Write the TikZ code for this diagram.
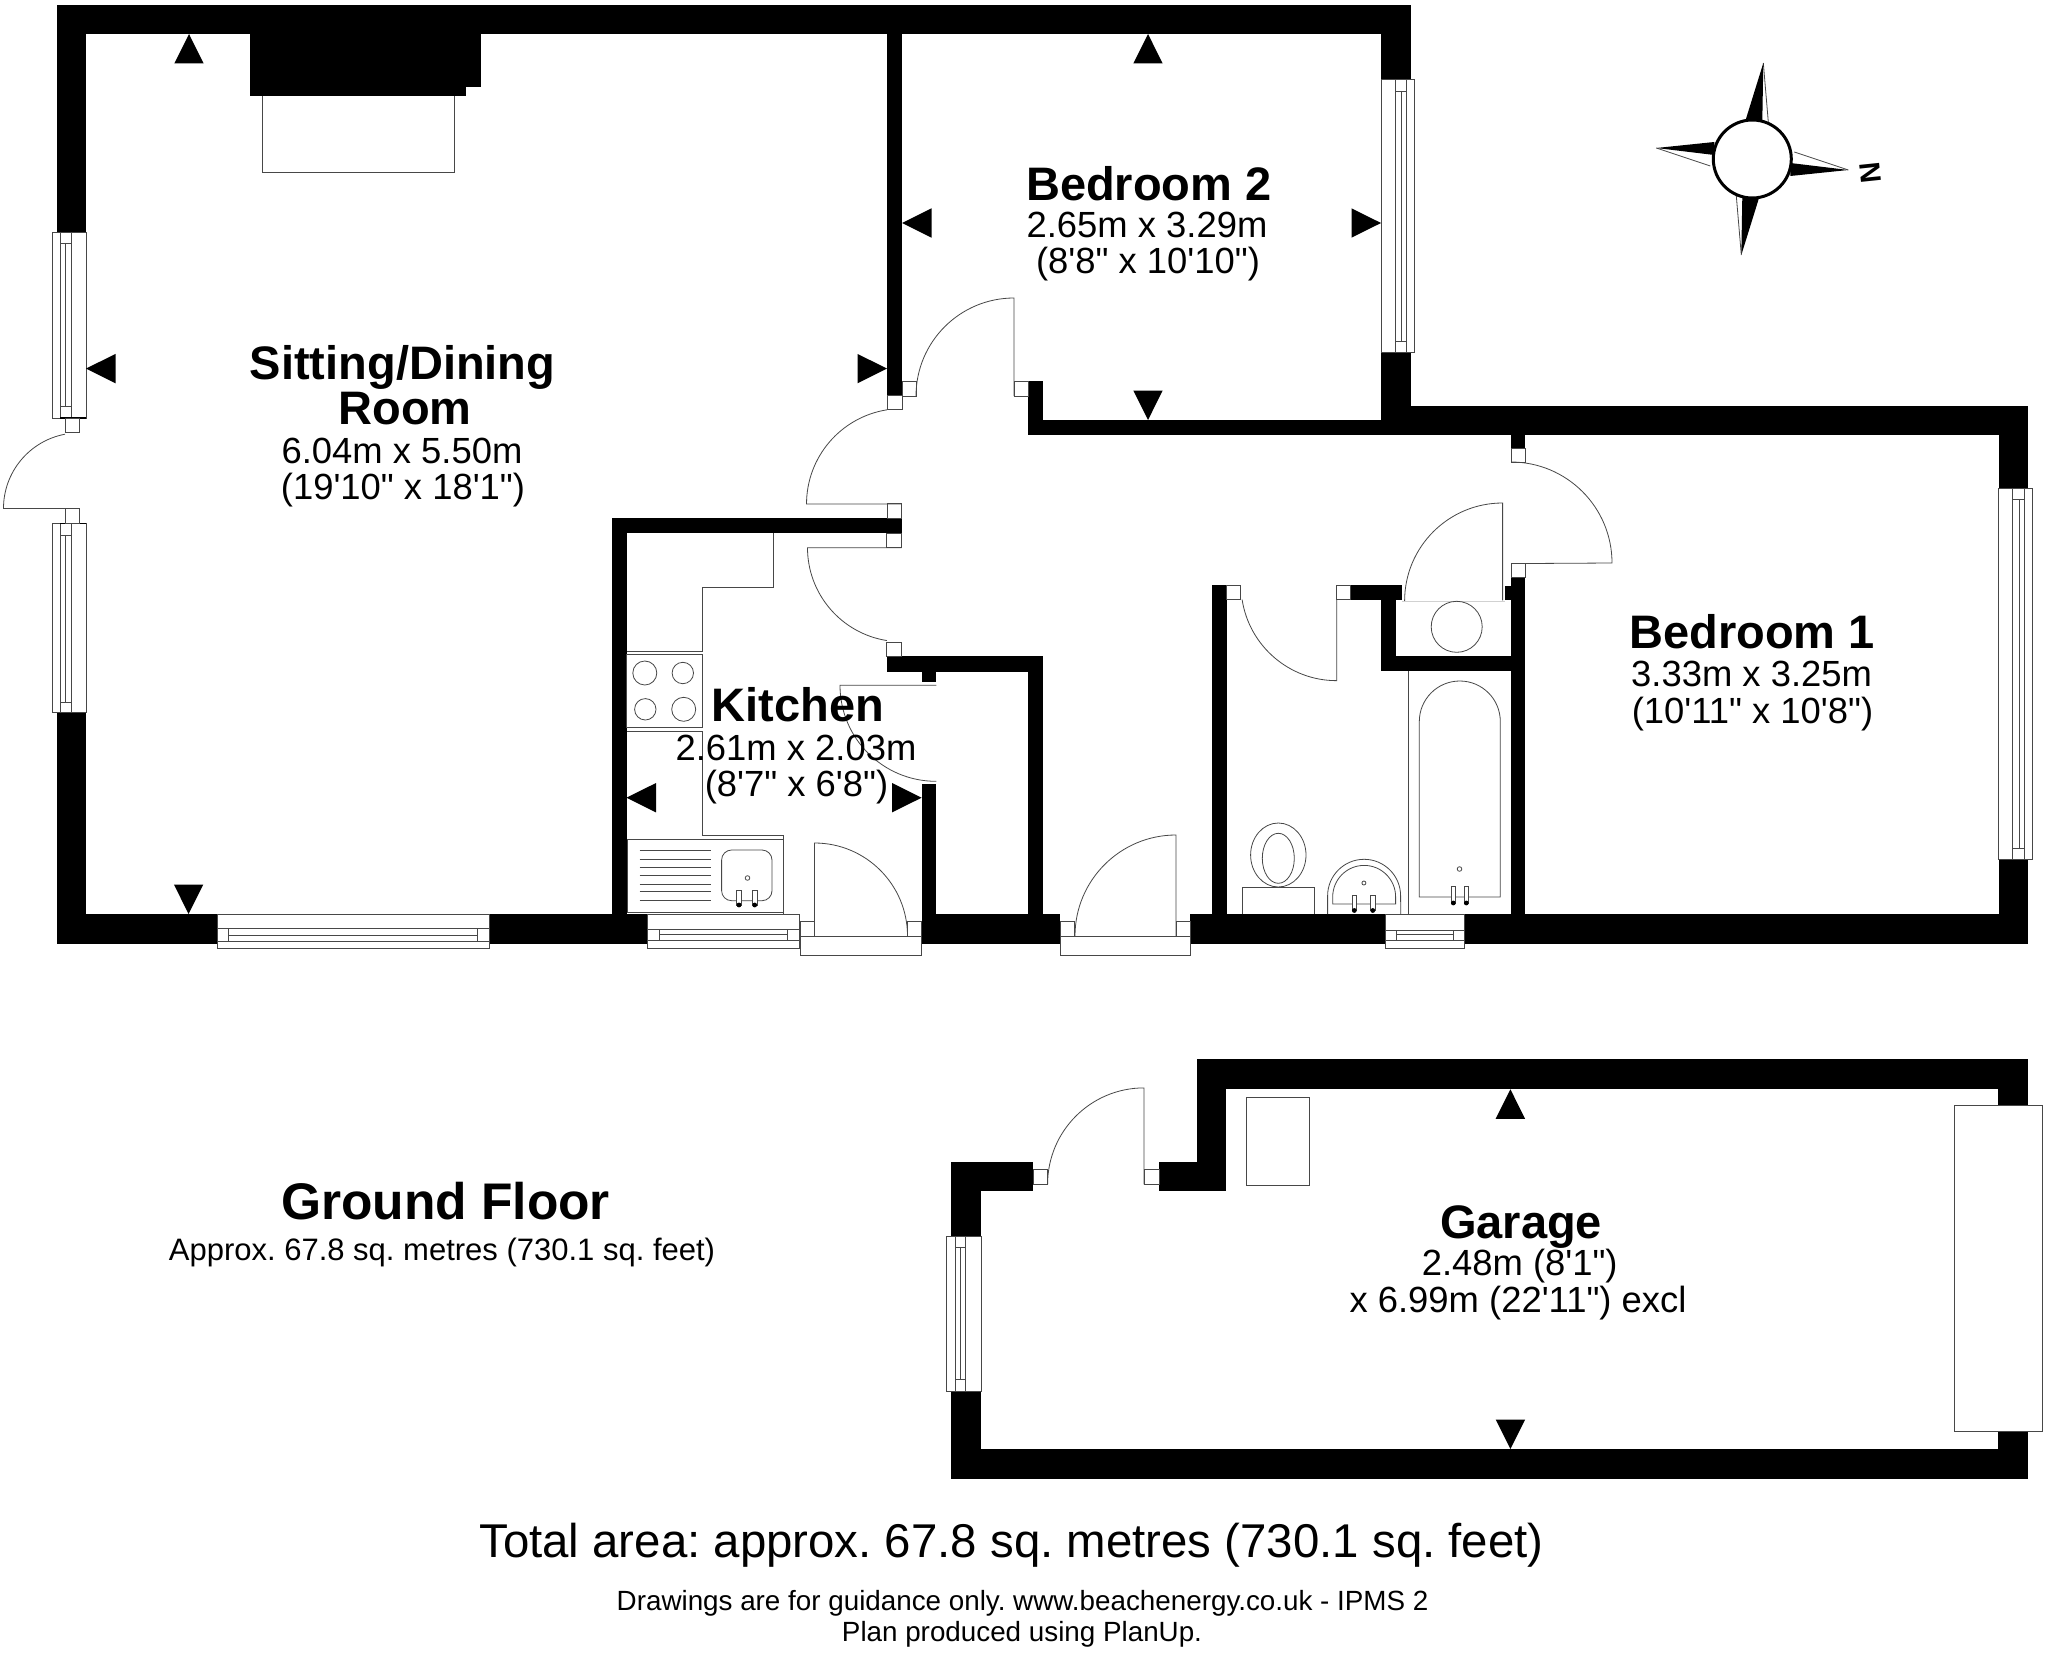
\documentclass[tikz,border=0pt]{standalone}
\usepackage{fontspec}
\newfontfamily\lib{Liberation Sans}
\AtBeginDocument{\frenchspacing}
\tikzset{
  wall/.style={fill=black},
  thin line/.style={draw=black!72,line width=0.8pt},
  fixture/.style={draw=black!72,line width=0.8pt,fill=white},
  marker/.style={fill=black},
  roomtitle/.style={font=\lib\fontsize{47}{47}\selectfont\bfseries,anchor=base,inner sep=0pt},
  roomdim/.style={font=\lib\fontsize{36.4}{36.4}\selectfont,anchor=base,inner sep=0pt},
}
% vertical window: left a b c right top itop ibot bot
\newcommand\vwin[9]{%
  \draw[fixture] (#1,#6) rectangle (#5,#9);
  \draw[thin line] (#2,#6) -- (#2,#9) (#4,#6) -- (#4,#9) (#3,#7) -- (#3,#8) (#2,#7) -- (#4,#7) (#2,#8) -- (#4,#8);}
% horizontal window: left ileft iright right top a b c bot
\newcommand\hwin[9]{%
  \draw[fixture] (#1,#5) rectangle (#4,#9);
  \draw[thin line] (#1,#6) -- (#4,#6) (#1,#8) -- (#4,#8) (#2,#7) -- (#3,#7) (#2,#6) -- (#2,#8) (#3,#6) -- (#3,#8);}
% up/down/left/right markers
\newcommand\mup[2]{\fill[marker] (#1,#2) -- (#1-14.7,#2+29.5) -- (#1+14.7,#2+29.5) -- cycle;}
\newcommand\mdown[2]{\fill[marker] (#1,#2) -- (#1-14.7,#2-29.5) -- (#1+14.7,#2-29.5) -- cycle;}
\newcommand\mleft[2]{\fill[marker] (#1,#2) -- (#1+29.5,#2-14.7) -- (#1+29.5,#2+14.7) -- cycle;}
\newcommand\mright[2]{\fill[marker] (#1,#2) -- (#1-29.5,#2-14.7) -- (#1-29.5,#2+14.7) -- cycle;}
\newcommand\tap[3]{\draw[fixture] (#1-2.3,#2) rectangle (#1+2.3,#3); \fill[black] (#1,#3) circle[radius=2.4pt];}
\begin{document}
\begin{tikzpicture}[x=1pt,y=-1pt]
\useasboundingbox (0,0) rectangle (2048,1656);
\fill[white] (0,0) rectangle (2048,1656);

% ---------- main walls
\fill[wall] (57,5) rectangle (1411,34);
\fill[wall] (57,5) rectangle (86,232);
\fill[wall] (57,712) rectangle (86,944);
\fill[wall] (57,914) rectangle (217,944);
\fill[wall] (489,914) rectangle (647.5,944);
\fill[wall] (921.6,914) rectangle (1060,944);
\fill[wall] (1190.4,914) rectangle (1385,944);
\fill[wall] (1464,914) rectangle (2028,944);
\fill[wall] (1381,5) rectangle (1411,79);
\fill[wall] (1381,352.5) rectangle (1411,435);
\fill[wall] (1028,420) rectangle (1411,435);
\fill[wall] (1028,381) rectangle (1043,435);
\fill[wall] (1381,405.7) rectangle (2028,435);
\fill[wall] (1998.5,405.7) rectangle (2028,488);
\fill[wall] (1998.5,859) rectangle (2028,944);
\fill[wall] (887,34) rectangle (902,395);
% kitchen
\fill[wall] (612,518.3) rectangle (901.5,533.3);
\fill[wall] (612,518.3) rectangle (626.5,914);
\fill[wall] (886.8,656) rectangle (1043,671.7);
\fill[wall] (1028,656) rectangle (1043,914);
\fill[wall] (921.6,671) rectangle (936.3,682);
\fill[wall] (921.6,784) rectangle (936.3,914);
% bathroom
\fill[wall] (1212,585) rectangle (1226.8,914);
\fill[wall] (1350,585) rectangle (1402.4,600.4);
\fill[wall] (1380.8,585) rectangle (1395.6,671.4);
\fill[wall] (1380.8,655.7) rectangle (1525.2,671.4);
\fill[wall] (1511,577) rectangle (1525.2,914);
\fill[wall] (1505.4,586) rectangle (1525.2,600);
\fill[wall] (1511,435) rectangle (1525.2,448);
% chimney
\fill[wall] (249.5,34) rectangle (465.7,96.4);
\fill[wall] (465,34) rectangle (481,87);
\draw[thin line] (262,96.4) -- (262,172.5) -- (454.6,172.5) -- (454.6,96.4);

% ---------- windows
\vwin{52.5}{60}{65.7}{71.4}{86}{232}{243}{406}{418}
\vwin{52.5}{60}{65.7}{71.4}{86}{523.4}{535}{702}{712.4}
\draw[black,line width=1.3pt] (60,523.4) -- (86,523.4);
\draw[black,line width=1.3pt] (60,418) -- (86,418);
\vwin{1381}{1395}{1401}{1406.8}{1414.6}{79}{91}{341.8}{352.5}
\vwin{1998.6}{2012.8}{2019.6}{2024.6}{2032.6}{488}{499}{848}{859}
\hwin{217}{228.6}{477.5}{489}{914}{928.8}{935.3}{941.3}{948}
\hwin{647.5}{659}{787.7}{799.7}{914}{929}{934}{940.7}{948.3}
\hwin{1385}{1396.7}{1453.3}{1464}{914}{930}{934}{940}{948}

% ---------- doors
% patio door, sitting room
\draw[fixture] (65,418) rectangle (79,432.8);
\draw[fixture] (65,508.4) rectangle (79,523.4);
\draw[thin line] (79,508.4) -- (3.5,508.4) arc[start angle=180,end angle=100.7,radius=75.5pt];
% bedroom 2 door
\draw[fixture] (902,381) rectangle (916,396);
\draw[fixture] (1014,381) rectangle (1028,396);
\draw[thin line] (916,396) arc[start angle=180,end angle=90,radius=98pt] -- (1014,396);
% sitting room door
\draw[fixture] (887,395) rectangle (902,409.6);
\draw[fixture] (887,503.7) rectangle (901.5,518.3);
\draw[thin line] (887,409.8) arc[start angle=99,end angle=180,radius=95.4pt] -- (901.5,504);
% kitchen door
\draw[fixture] (886.8,533.3) rectangle (901.5,547.7);
\draw[fixture] (886.8,642) rectangle (901.5,656);
\draw[thin line] (901.5,547.7) -- (807.5,547.7) arc[start angle=180,end angle=261,radius=94pt];
% larder door
\draw[thin line] (936.3,685.3) -- (840,685.3) arc[start angle=180,end angle=270,radius=96pt] -- (936.3,781.3);
% kitchen back door
\draw[fixture] (800,936) rectangle (921.6,955.3);
\draw[fixture] (800,921) rectangle (814.5,936);
\draw[fixture] (907.3,921) rectangle (921.6,936);
\draw[thin line] (814.5,936) -- (814.5,843) arc[start angle=90,end angle=0,radius=93pt];
% front door
\draw[fixture] (1060,936) rectangle (1190.4,955.3);
\draw[fixture] (1060,921) rectangle (1074.7,936);
\draw[fixture] (1176,921) rectangle (1190.4,936);
\draw[thin line] (1176,936) -- (1176,835) arc[start angle=90,end angle=180,radius=101pt];
% bathroom door
\draw[fixture] (1226.8,585) rectangle (1240.4,599.6);
\draw[fixture] (1336,585) rectangle (1350,599.6);
\draw[thin line] (1242.1,599.6) arc[start angle=188.8,end angle=270,radius=95.7pt] -- (1336.7,599.6);
% cupboard door
\draw[thin line] (1502.6,600.3) -- (1502.6,503) arc[start angle=90,end angle=180,radius=98pt];
\draw[draw=black!18,line width=0.6pt] (1402.4,601) -- (1505.4,601);
% bedroom 1 door
\draw[fixture] (1511,448) rectangle (1525.2,462);
\draw[fixture] (1511,563.6) rectangle (1525.2,577);
\draw[thin line] (1511,462) arc[start angle=90,end angle=0,radius=101pt] -- (1511,563.6);

% ---------- kitchen fittings
\draw[thin line] (773,533.3) -- (773,587) -- (702.4,587) -- (702.4,651.7) -- (626.5,651.7);
\draw[thin line] (626.5,654.3) rectangle (702.4,727.3);
\draw[thin line] (644.8,673) ellipse[x radius=12pt,y radius=12pt];
\draw[thin line] (682.8,673) ellipse[x radius=10.7pt,y radius=10.7pt];
\draw[thin line] (645.3,709.3) ellipse[x radius=10.7pt,y radius=10.7pt];
\draw[thin line] (683.7,709.3) ellipse[x radius=12pt,y radius=12pt];
\draw[thin line] (626.5,731.7) -- (702.4,731.7) -- (702.4,835) -- (783.2,835) -- (783.2,914);
\draw[thin line] (627.4,839) rectangle (783.2,912);
\foreach \yy in {850,859,867,875.3,884,891.7,900.7}
  \draw[thin line] (639.5,\yy) -- (711,\yy);
\draw[thin line,rounded corners=10pt] (721.6,850) rectangle (772,900.7);
\draw[thin line] (747.5,878) circle[radius=2.3pt];
\tap{739}{890}{905}
\tap{754.7}{890}{905}

% ---------- bathroom fittings
\draw[thin line] (1456.7,626.8) circle[radius=25.5pt];
\draw[thin line] (1408.6,671.4) -- (1408.6,914);
\draw[thin line] (1419.3,897) -- (1419.3,721.5) arc[start angle=180,end angle=0,radius=40.5pt] -- (1500.3,897) -- cycle;
\draw[thin line] (1459.5,869) circle[radius=2.3pt];
\tap{1453.3}{886}{903}
\tap{1466.3}{886}{903}
\draw[thin line] (1242,914) -- (1242,887) -- (1314.6,887) -- (1314.6,914);
\draw[thin line] (1278.3,855) ellipse[x radius=27.7pt,y radius=32pt];
\draw[thin line] (1278.3,858.3) ellipse[x radius=16pt,y radius=25pt];
\draw[thin line] (1327.6,914) -- (1327.6,895.8) arc[start angle=180,end angle=0,x radius=36.5pt,y radius=36.5pt] -- (1400.7,914);
\draw[thin line] (1332.7,904) -- (1332.7,896.8) arc[start angle=180,end angle=0,x radius=31.45pt,y radius=31.4pt] -- (1395.6,904) -- cycle;
\draw[thin line] (1363.9,883) circle[radius=2pt];
\tap{1354.3}{895.4}{910.5}
\tap{1372.8}{895.4}{910.5}

% ---------- markers
\mup{189}{34}
\mdown{188.6}{914}
\mleft{86}{368.6}
\mright{887}{368.6}
\mup{1148}{34}
\mdown{1148}{420}
\mleft{902}{223}
\mright{1381}{223}
\mleft{626.5}{797.7}
\mright{921.6}{797.7}
\mup{1510.4}{1089.3}
\mdown{1510.4}{1449}

% ---------- garage
\fill[wall] (951.4,1162) rectangle (1033.4,1191.3);
\fill[wall] (951.4,1162) rectangle (981.3,1236);
\fill[wall] (951.4,1391) rectangle (981.3,1478.7);
\fill[wall] (951.4,1449) rectangle (2028,1478.7);
\fill[wall] (1158.9,1162) rectangle (1226,1191.3);
\fill[wall] (1197.4,1059.3) rectangle (1226,1191.3);
\fill[wall] (1197.4,1059.3) rectangle (2028,1089.3);
\fill[wall] (1998,1059.3) rectangle (2028,1105);
\fill[wall] (1998,1431) rectangle (2028,1478.7);
\draw[fixture] (1954.6,1105) rectangle (2042.3,1431);
\vwin{946.4}{955}{960}{965.6}{981.3}{1236}{1247.3}{1379.3}{1391}
\draw[thin line] (1245.9,1097.3) rectangle (1309.3,1185.7);
\draw[fixture] (1033.4,1169.3) rectangle (1047.6,1184.3);
\draw[fixture] (1144,1169.3) rectangle (1158.9,1184.3);
\draw[thin line] (1047.6,1184.3) arc[start angle=180,end angle=90,radius=96.4pt] -- (1144,1184.3);

% ---------- compass
\begin{scope}[shift={(1752.3,159)}]
  \draw[thin line] (11,-96) -- (16,-37);
  \draw[thin line] (96,11) -- (42,-7);
  \draw[thin line] (-11,96) -- (-16,37);
  \draw[thin line] (-96,-11) -- (-42,7);
  \fill[black] (11,-96) -- (-7,-38) -- (10,-38) -- cycle;
  \fill[black] (96,11) -- (38,17) -- (38,4) -- cycle;
  \fill[black] (-11,96) -- (7,38) -- (-10,38) -- cycle;
  \fill[black] (-96,-11) -- (-38,-17) -- (-38,-4) -- cycle;
  \draw[black,fill=white,line width=3pt] (0,0) circle[radius=39pt];
\end{scope}
\node[font=\lib\fontsize{29}{29}\selectfont\bfseries,inner sep=0pt,rotate=-84] (north) at (1870,173) {N};

% ---------- labels
\node[roomtitle] (sit1) at (402.5,379.3) {Sitting/Dining};
\node[roomtitle] (sit2) at (405,424.5) {Room};
\node[roomdim] (sit3) at (402,463.5) {6.04m x 5.50m};
\node[roomdim] (sit4) at (403,499.2) {(19'10" x 18'1")};
\node[roomtitle] (bed21) at (1148.8,200.5) {Bedroom 2};
\node[roomdim] (bed22) at (1147,237.5) {2.65m x 3.29m};
\node[roomdim] (bed23) at (1148,273.2) {(8'8" x 10'10")};
\node[roomtitle] (kit1) at (797.7,721.7) {Kitchen};
\node[roomdim] (kit2) at (796,760.3) {2.61m x 2.03m};
\node[roomdim] (kit3) at (796.5,796) {(8'7" x 6'8")};
\node[roomtitle] (bed11) at (1752,648) {Bedroom 1};
\node[roomdim] (bed12) at (1751.6,686) {3.33m x 3.25m};
\node[roomdim] (bed13) at (1752.5,723) {(10'11" x 10'8")};
\node[roomtitle] (gar1) at (1521,1238) {Garage};
\node[roomdim] (gar2) at (1519.7,1275.3) {2.48m (8'1")};
\node[roomdim] (gar3) at (1518,1312.7) {x 6.99m (22'11") excl};
\node[font=\lib\fontsize{51.5}{52}\selectfont\bfseries,anchor=base,inner sep=0pt] (gf) at (445.5,1219.3) {Ground Floor};
\node[font=\lib\fontsize{31}{31}\selectfont,anchor=base,inner sep=0pt] (gfa) at (442,1260) {Approx. 67.8 sq. metres (730.1 sq. feet)};
\node[font=\lib\fontsize{47.4}{47.4}\selectfont,anchor=base,inner sep=0pt] (tot) at (1011.5,1557) {Total area: approx. 67.8 sq. metres (730.1 sq. feet)};
\node[font=\lib\fontsize{27.8}{27.8}\selectfont,anchor=base,inner sep=0pt] (f1) at (1022.6,1610) {Drawings are for guidance only. www.beachenergy.co.uk - IPMS 2};
\node[font=\lib\fontsize{27.8}{27.8}\selectfont,anchor=base,inner sep=0pt] (f2) at (1022,1641.5) {Plan produced using PlanUp.};
\end{tikzpicture}
\end{document}
